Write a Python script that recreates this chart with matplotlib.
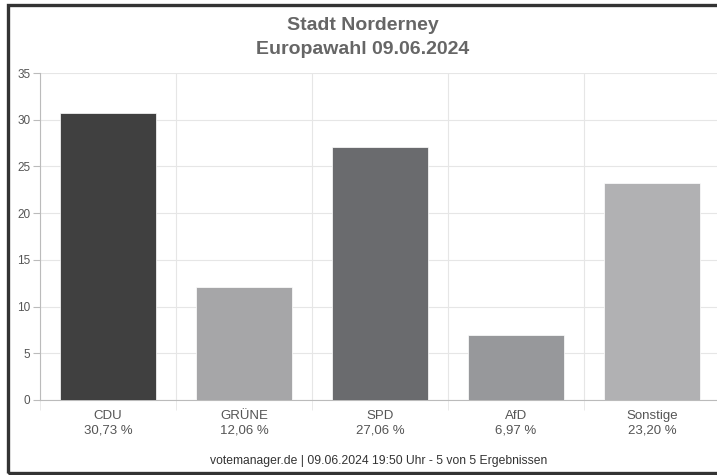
import matplotlib.pyplot as plt
from matplotlib.patches import Rectangle

parties = ["CDU", "GRÜNE", "SPD", "AfD", "Sonstige"]
shares = [30.73, 12.06, 27.06, 6.97, 23.20]
share_labels = ["30,73 %", "12,06 %", "27,06 %", "6,97 %", "23,20 %"]
colors = ["#404040", "#a6a6a8", "#6a6b6e", "#97989b", "#b1b1b3"]
yticks = [0, 5, 10, 15, 20, 25, 30, 35]

plt.rcParams["font.family"] = ["Liberation Sans", "DejaVu Sans"]

W, H = 717, 475
fig = plt.figure(figsize=(W / 100, H / 100), dpi=100)

# outer frame (right edge cut off in the original)
fig.patches.append(Rectangle((8 / W, 2.5 / H), 720 / W, 468 / H, transform=fig.transFigure,
                             fill=False, edgecolor="#333333", linewidth=2.4))

ax = fig.add_axes([40 / W, 1 - 400 / H, 680 / W, 327 / H])
x = list(range(len(parties)))
ax.bar(x, shares, width=0.71, color=colors, edgecolor="white", linewidth=0.5, zorder=3)

ax.set_xlim(-0.5, len(parties) - 0.5)
ax.set_ylim(0, 35)
ax.set_yticks(yticks)
ax.set_yticklabels([str(t) for t in yticks])
ax.set_xticks(x)
ax.set_xticklabels([f"{p}\n{s}" for p, s in zip(parties, share_labels)], linespacing=1.3)
ax.set_xticks([i - 0.5 for i in range(len(parties) + 1)], minor=True)

for s in ["top", "right"]:
    ax.spines[s].set_visible(False)
for s in ["left", "bottom"]:
    ax.spines[s].set_color("#bbbbbb")
    ax.spines[s].set_linewidth(0.8)

ax.grid(axis="y", color="#e6e6e6", linewidth=0.8, zorder=0)
ax.grid(axis="x", which="minor", color="#e6e6e6", linewidth=0.8, zorder=0)
ax.tick_params(axis="y", length=5, color="#bbbbbb", labelsize=8.5, labelcolor="#555555", pad=2)
ax.tick_params(axis="x", which="major", length=0, labelsize=9.5, labelcolor="#555555", pad=7)
ax.tick_params(axis="x", which="minor", length=7, color="#e6e6e6")

fig.text(363 / W, 1 - 26 / H, "Stadt Norderney", ha="center", va="center",
         fontsize=14, fontweight="bold", color="#666666")
fig.text(363 / W, 1 - 50 / H, "Europawahl 09.06.2024", ha="center", va="center",
         fontsize=14, fontweight="bold", color="#666666")
fig.text(379 / W, 1 - 461 / H, "votemanager.de | 09.06.2024 19:50 Uhr - 5 von 5 Ergebnissen",
         ha="center", va="center", fontsize=8.7, color="#333333")

fig.savefig("out.png", dpi=100)
